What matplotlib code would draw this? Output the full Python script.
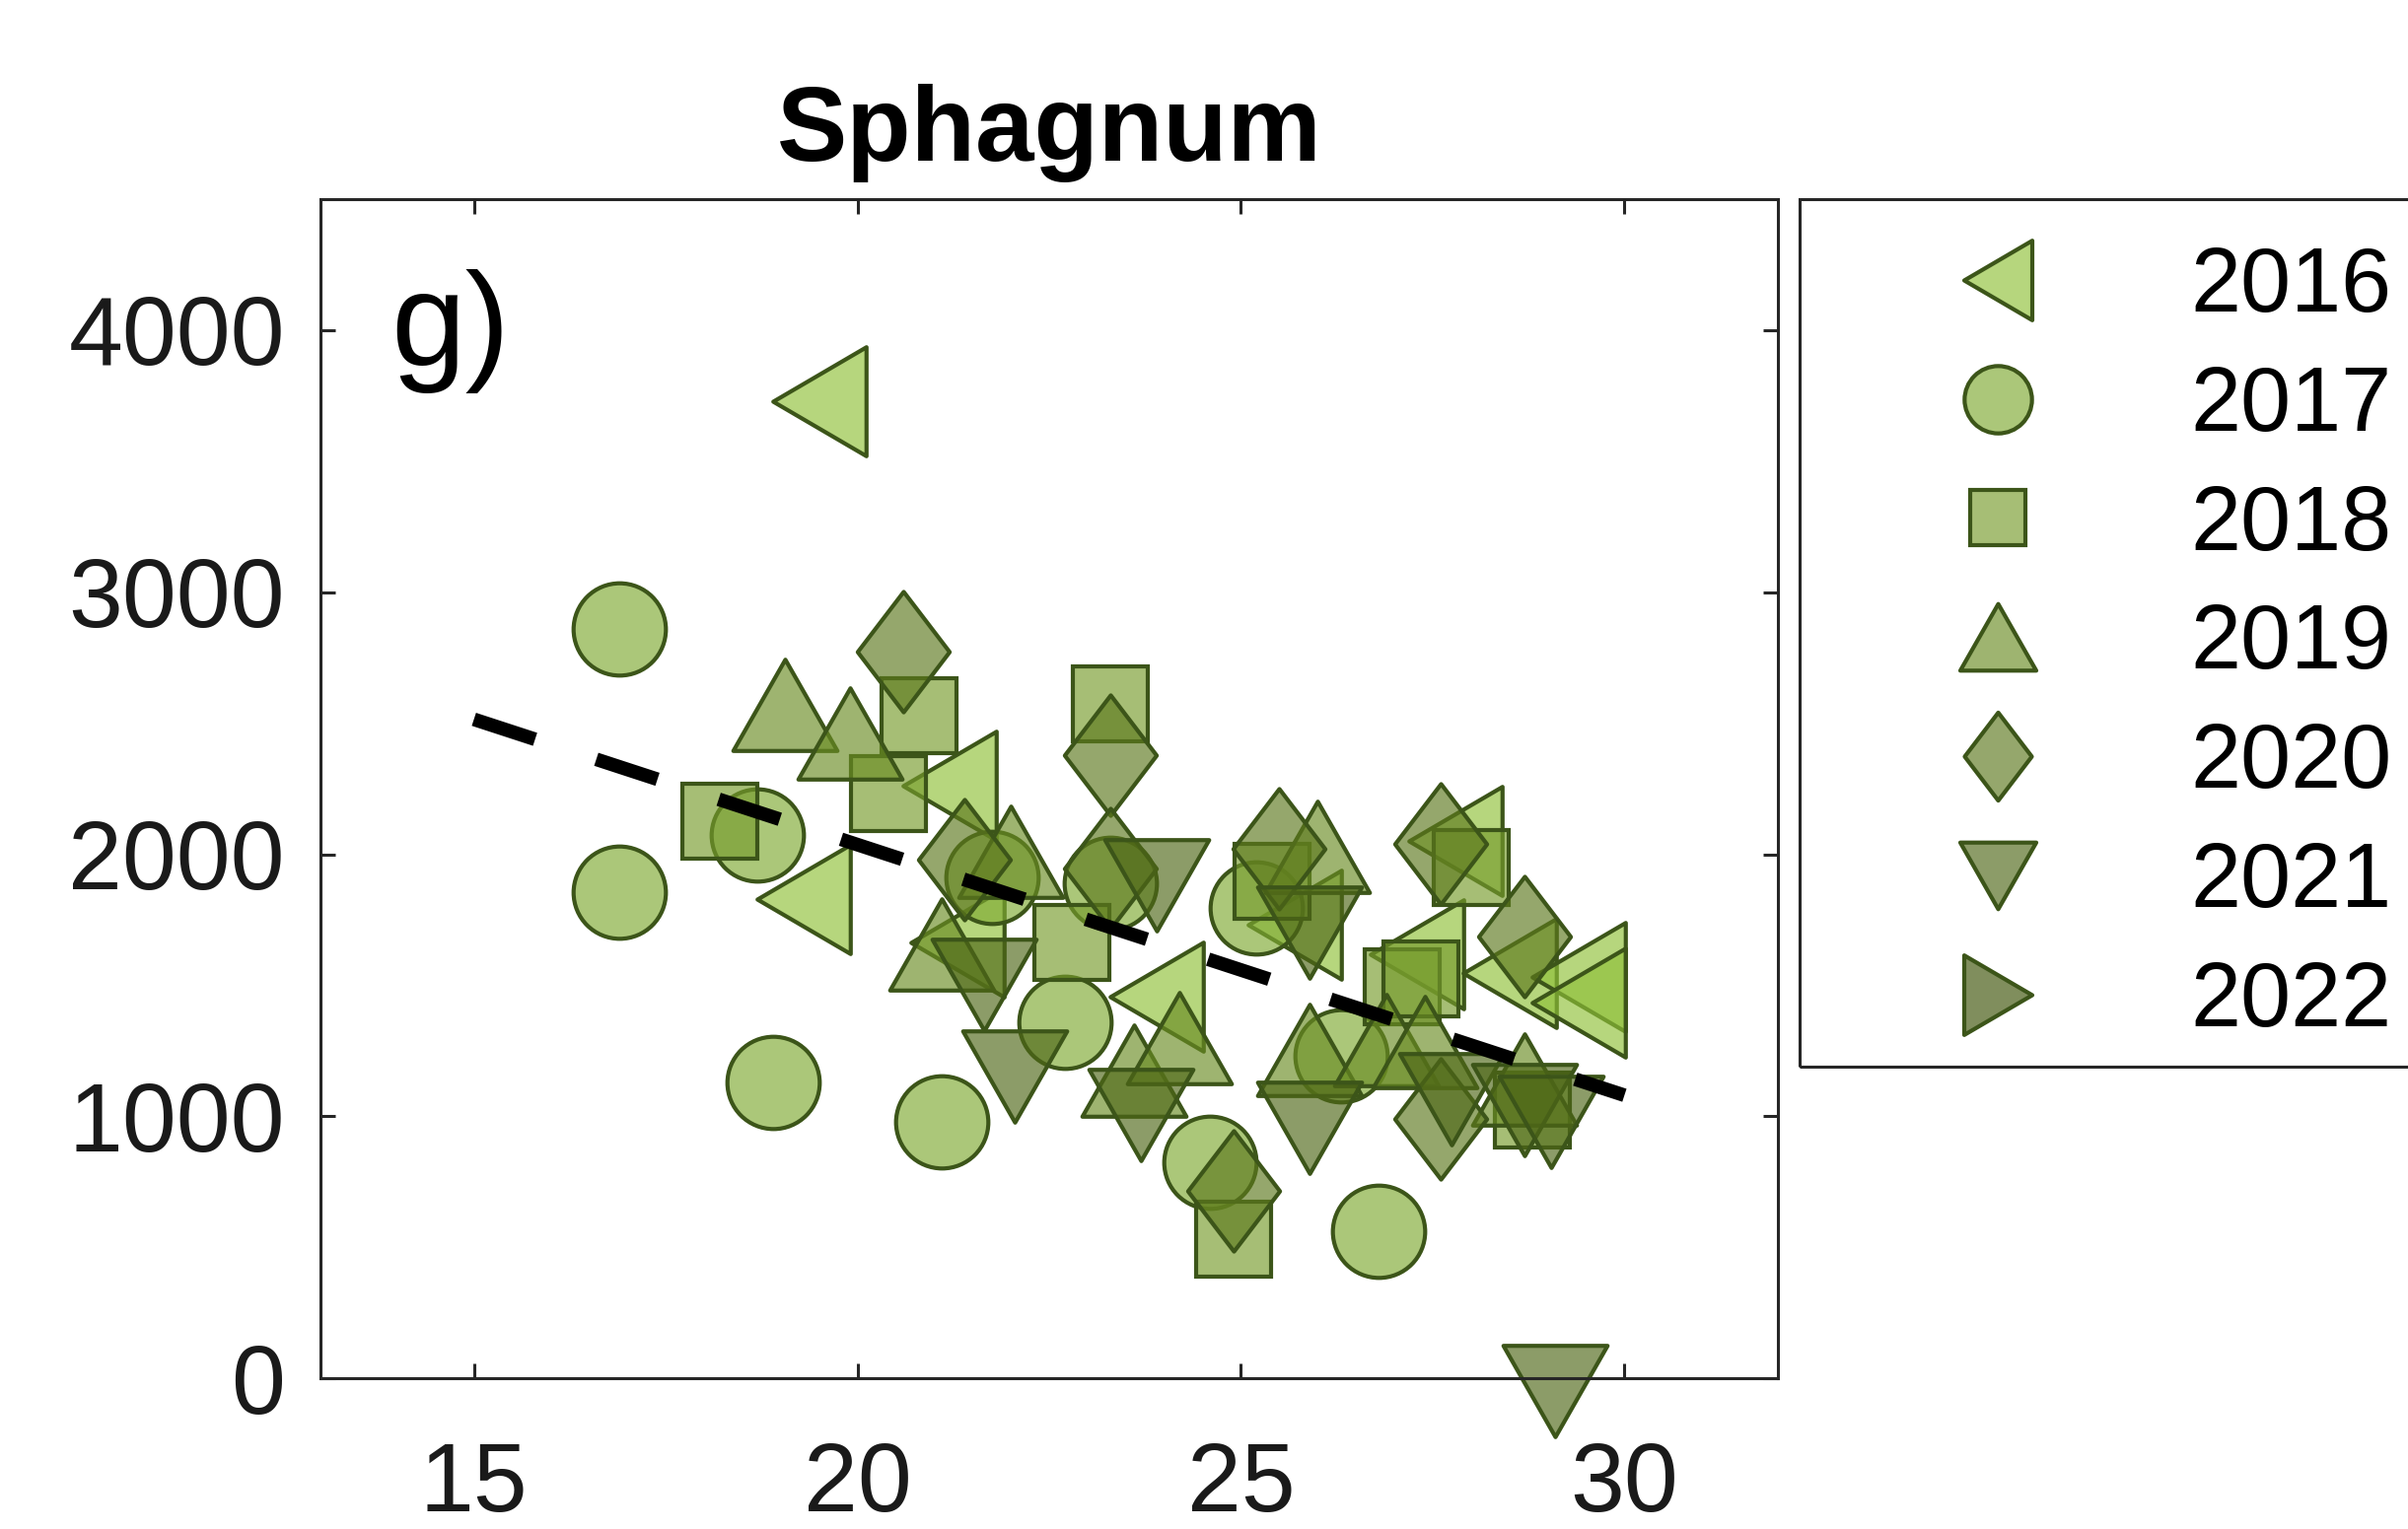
import numpy as np
import matplotlib.pyplot as plt
from matplotlib.path import Path
from matplotlib.patches import Rectangle

plt.rcParams['font.family'] = ['Liberation Sans', 'DejaVu Sans']

years = ["2016", "2017", "2018", "2019", "2020", "2021", "2022"]

# values, one pair of lists per year
x_2016 = [19.5, 19.3, 21.2, 21.3, 23.9, 25.7, 27.3, 27.8, 28.5, 29.4, 29.4]
y_2016 = [3730, 1830, 2260, 1665, 1455, 1730, 1620, 2050, 1545, 1530, 1435]

x_2017 = [16.9, 16.9, 18.7, 18.9, 21.1, 21.75, 22.7, 23.3, 24.6, 25.2, 26.3, 26.8]
y_2017 = [2860, 1855, 2075, 1130, 980, 1910, 1360, 1890, 825, 1795, 1230, 560]

x_2018 = [18.2, 20.8, 20.4, 22.8, 23.3, 24.9, 25.4, 27.1, 27.35, 28.0, 28.8]
y_2018 = [2125, 2530, 2230, 1665, 2575, 530, 1895, 1495, 1525, 1950, 1025]

x_2019 = [19.05, 19.9, 21.1, 22.0, 23.6, 24.2, 26.0, 25.9, 26.9, 27.4, 28.7]
y_2019 = [2570, 2460, 1655, 2010, 1175, 1300, 2030, 1255, 1290, 1285, 1140]

x_2020 = [20.6, 21.4, 23.3, 23.3, 24.9, 25.5, 27.6, 27.6, 28.7]
y_2020 = [2775, 1980, 2380, 1945, 715, 2020, 2040, 990, 1685]

x_2021 = [21.65, 22.05, 23.9, 23.7, 25.9, 25.9, 27.75, 28.7, 29.05, 29.1]
y_2021 = [1500, 1150, 1880, 1005, 1700, 955, 1065, 1025, 980, -50]

x_2022 = []
y_2022 = []

fit_x = [15, 30]
fit_y = [2515, 1080]

xs = [x_2016, x_2017, x_2018, x_2019, x_2020, x_2021, x_2022]
ys = [y_2016, y_2017, y_2018, y_2019, y_2020, y_2021, y_2022]


def poly(pts):
    return Path(pts + [pts[0]], closed=True)


tri_left = poly([(-0.855, 0), (0.855, 1), (0.855, -1)])
tri_right = poly([(0.855, 0), (-0.855, 1), (-0.855, -1)])
tri_up = poly([(0, 0.877), (-1, -0.877), (1, -0.877)])
tri_down = poly([(0, -0.877), (-1, 0.877), (1, 0.877)])
diamond = poly([(0, 1), (0.763, 0), (0, -1), (-0.763, 0)])

markers = [tri_left, "o", "s", tri_up, diamond, tri_down, tri_right]
sizes = [39.8, 33.7, 27.5, 38, 44, 38, 39.8]
faces = ["#8fc038", "#7faa32", "#769b2c", "#6a8c23", "#5d791d", "#4e6717", "#3c5107"]
edge = "#3c5519"
alpha = 0.65

fig = plt.figure(figsize=(12.21, 7.755), dpi=200)
ax = fig.add_axes([0.1331, 0.0986, 0.6052, 0.7711])

for yr, x, y, m, s, fc in zip(years, xs, ys, markers, sizes, faces):
    rgba = plt.matplotlib.colors.to_rgba(fc, alpha)
    ax.plot(x, y, linestyle="none", marker=m, markersize=s,
            markerfacecolor=rgba, markeredgecolor=edge, markeredgewidth=1.5,
            label=yr, clip_on=False)

ax.plot(fit_x, fit_y, color="black", lw=5, linestyle=(0, (4.7, 4.7)), zorder=5)

ax.set_xlim(13, 32)
ax.set_ylim(0, 4500)
ax.set_xticks([15, 20, 25, 30])
ax.set_yticks([0, 1000, 2000, 3000, 4000])

for sp in ax.spines.values():
    sp.set_color("#262626")
    sp.set_linewidth(1.1)
ax.tick_params(direction="in", length=5.4, width=1.1, color="#262626",
               top=True, right=True, labelsize=35.5, labelcolor="#1a1a1a")
ax.tick_params(axis="x", pad=23)
ax.tick_params(axis="y", pad=13)

ax.set_title("Sphagnum", fontsize=38.5, fontweight="bold", pad=14)
ax.text(0.048, 0.859, "g)", transform=ax.transAxes, fontsize=49,
        va="baseline", ha="left")

leg = ax.legend(loc="upper left", bbox_to_anchor=(1825 / 2442, 1 - 214 / 1551),
                bbox_transform=fig.transFigure, borderaxespad=0, fontsize=33,
                markerscale=0.73, borderpad=0.38, handlelength=3.62,
                handletextpad=0.32, labelspacing=0.38, frameon=False)

frame = Rectangle((1825 / 2442, 1 - 1082 / 1551), 700 / 2442, 880 / 1551,
                  transform=fig.transFigure, fill=False, edgecolor="#262626",
                  linewidth=1.1, clip_on=False)
fig.add_artist(frame)

fig.savefig("out.png", dpi=200)
